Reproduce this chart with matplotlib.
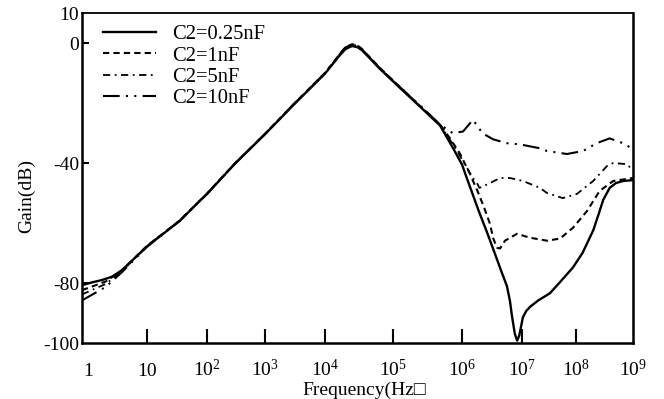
import numpy as np
import matplotlib

matplotlib.use("Agg")
import matplotlib.pyplot as plt

plt.rcParams["font.family"] = ["Liberation Serif", "DejaVu Serif"]
plt.rcParams["mathtext.fontset"] = "custom"
plt.rcParams["mathtext.rm"] = "Liberation Serif"
plt.rcParams["mathtext.it"] = "Liberation Serif:italic"
plt.rcParams["axes.unicode_minus"] = False

labels = ["C2=0.25nF", "C2=1nF", "C2=5nF", "C2=10nF"]

freq_025 = [0.79, 1.17, 1.73, 2.55, 3.77, 10, 35, 76, 100, 300, 1e3, 3e3, 1e4, 1.66e4, 2.0e4,
            2.5e4, 3.0e4, 3.5e4, 6.4e4, 1.2e5, 2.46e5, 4.8e5, 7.4e5, 1.0e6, 1.2e6, 1.9e6, 2.6e6,
            3.5e6, 4.6e6, 5.6e6, 6.3e6, 6.8e6, 7.6e6, 8.3e6, 9.0e6, 1.04e7, 1.2e7, 1.4e7, 2.0e7,
            3.3e7, 5.0e7, 8.8e7, 1.3e8, 2.0e8, 2.5e8, 3.0e8, 3.9e8, 5.0e8, 6.7e8, 1e9]
gain_025 = [-80.7, -79.8, -79.0, -77.9, -75.7, -67.8, -59.3, -52.6, -50.3, -40.3, -30.4, -20.6,
            -10.2, -4.0, -2.0, -1.0, -1.4, -2.4, -8.6, -14.5, -21.2, -27.5, -35.0, -40.5, -45.0,
            -56.0, -63.0, -70.0, -76.5, -81.0, -86.0, -91.0, -97.0, -99.2, -97.5, -91.4, -89.3,
            -88.0, -85.8, -83.4, -79.8, -74.8, -70.0, -62.5, -57.0, -52.3, -48.3, -46.7, -46.0,
            -45.7]

freq_1 = [0.79, 2.0, 3.8, 10, 35, 100, 300, 1e3, 3e3, 1e4, 1.66e4, 2.0e4, 2.5e4, 3.0e4, 3.5e4,
          6.4e4, 1.2e5, 2.46e5, 4.8e5, 6.7e5, 9.4e5, 1.36e6, 1.81e6, 2.35e6, 2.93e6, 3.3e6, 3.8e6,
          4.3e6, 5.2e6, 8.25e6, 1.4e7, 2.9e7, 5.05e7, 8.8e7, 1.56e8, 2.6e8, 4.5e8, 1e9]
gain_1 = [-82.4, -79.5, -75.7, -67.6, -59.2, -50.2, -40.2, -30.3, -20.4, -10.0, -3.6, -1.4, -0.4,
          -0.8, -2.0, -8.3, -14.2, -21.0, -27.2, -31.8, -37.0, -43.7, -49.3, -55.0, -60.3, -65.0,
          -68.2, -68.5, -65.9, -63.6, -64.9, -65.9, -65.2, -61.6, -56.0, -49.3, -46.0, -45.0]

freq_5 = [0.79, 2.0, 3.8, 10, 35, 100, 300, 1e3, 3e3, 1e4, 1.66e4, 2.0e4, 2.5e4, 3.0e4, 3.5e4,
          6.4e4, 1.2e5, 2.46e5, 4.8e5, 7.4e5, 1.12e6, 1.52e6, 1.81e6, 1.95e6, 2.93e6, 4.3e6,
          6.3e6, 1.04e7, 2.15e7, 2.9e7, 5.7e7, 1.04e8, 2e8, 3.5e8, 4.5e8, 7.85e8, 1e9]
gain_5 = [-83.8, -80.3, -76.0, -67.7, -59.2, -50.2, -40.2, -30.3, -20.4, -10.0, -3.7, -1.5, -0.5,
          -0.9, -2.1, -8.4, -14.3, -21.0, -27.2, -33.8, -40.4, -45.0, -47.0, -48.3, -46.7, -45.0,
          -45.0, -46.0, -48.3, -50.0, -51.7, -50.3, -46.0, -41.0, -40.0, -40.4, -42.5]

freq_10 = [0.79, 2.0, 3.8, 10, 35, 100, 300, 1e3, 3e3, 1e4, 1.66e4, 2.0e4, 2.5e4, 3.0e4, 3.5e4,
           6.4e4, 1.2e5, 2.46e5, 4.8e5, 7.4e5, 1.04e6, 1.52e6, 2.2e6, 3.3e6, 5.6e6, 9.3e6, 2.15e7,
           2.9e7, 6.8e7, 1.33e8, 2.3e8, 3.9e8, 6.7e8, 1e9]
gain_10 = [-85.8, -81.3, -76.3, -67.9, -59.3, -50.3, -40.3, -30.3, -20.4, -10.0, -3.7, -1.5, -0.6,
           -1.0, -2.2, -8.4, -14.3, -20.8, -27.2, -30.1, -29.5, -25.6, -30.1, -32.1, -33.4, -33.8,
           -35.1, -36.0, -37.0, -36.0, -33.4, -31.8, -33.4, -35.4]

x_ticks = [1, 10, 1e2, 1e3, 1e4, 1e5, 1e6, 1e7, 1e8, 1e9]
x_tick_labels = ["1", "10", "10$^2$", "10$^3$", "10$^4$", "10$^5$", "10$^6$", "10$^7$",
                 "10$^8$", "10$^9$"]
y_ticks = [-100, -80, -40, 0, 10]
y_tick_labels = ["-100", "-80", "-40", "0", "10"]

# the printed decades are not evenly spaced; map each decade to its pixel column
DECADES = np.arange(-1, 11)
DECADE_PX = np.array([29, 88, 147, 207, 265, 325, 393, 462, 522, 576, 633, 690], dtype=float)


def _forward(f):
    f = np.asarray(f, dtype=float)
    with np.errstate(divide="ignore", invalid="ignore"):
        d = np.log10(np.where(f > 0, f, 1e-300))
    return np.interp(d, DECADES, DECADE_PX)


def _inverse(u):
    return 10.0 ** np.interp(np.asarray(u, dtype=float), DECADE_PX, DECADES)


fig = plt.figure(figsize=(6.64, 3.99), dpi=100)
ax = fig.add_axes([82 / 664, 1 - 343 / 399, 551 / 664, 330 / 399])
ax.set_xscale("function", functions=(_forward, _inverse))

styles = [
    dict(linestyle="-", linewidth=1.7),
    dict(linestyle=(0, (3, 2)), linewidth=1.5),
    dict(linestyle=(0, (4, 2.5, 1, 2.5)), linewidth=1.3),
    dict(linestyle=(0, (8, 3, 1, 3, 1, 3)), linewidth=1.5),
]
series = [(freq_025, gain_025), (freq_1, gain_1), (freq_5, gain_5), (freq_10, gain_10)]
for (freq, gain), label, style in zip(series, labels, styles):
    ax.plot(freq, gain, color="black", label=label, **style)

ax.set_xlim(0.79, 1e9)
ax.set_ylim(-100, 9.4)

ax.set_xticks(x_ticks)
ax.set_xticklabels(x_tick_labels, fontsize=14)
ax.set_yticks(y_ticks)
ax.set_yticklabels(y_tick_labels, fontsize=14)
ax.tick_params(axis="x", direction="in", length=10, width=1.5, pad=24)
ax.tick_params(axis="y", direction="in", length=5, width=1.5, pad=2)
for lab in ax.get_xticklabels():
    lab.set_verticalalignment("baseline")
xt = ax.xaxis.get_major_ticks()
for t in (xt[0], xt[-1]):
    t.tick1line.set_visible(False)
yt = ax.yaxis.get_major_ticks()
for t in (yt[0], yt[-1]):
    t.tick1line.set_visible(False)

for name, spine in ax.spines.items():
    spine.set_linewidth(1.3 if name == "top" else 1.8)

ax.set_xlabel("Frequency(Hz\u25a1", fontsize=14)
ax.xaxis.set_label_coords((364 - 82) / 551, -0.118)
ax.set_ylabel("Gain(dB)", fontsize=14)
ax.yaxis.set_label_coords(-0.085, 0.445)

ax.legend(loc="upper left", bbox_to_anchor=(0.012, 1.008), frameon=False, fontsize=14.8,
          handlelength=2.6, handletextpad=0.75, labelspacing=0.1, borderpad=0.2)

fig.savefig("out.png", dpi=100)
